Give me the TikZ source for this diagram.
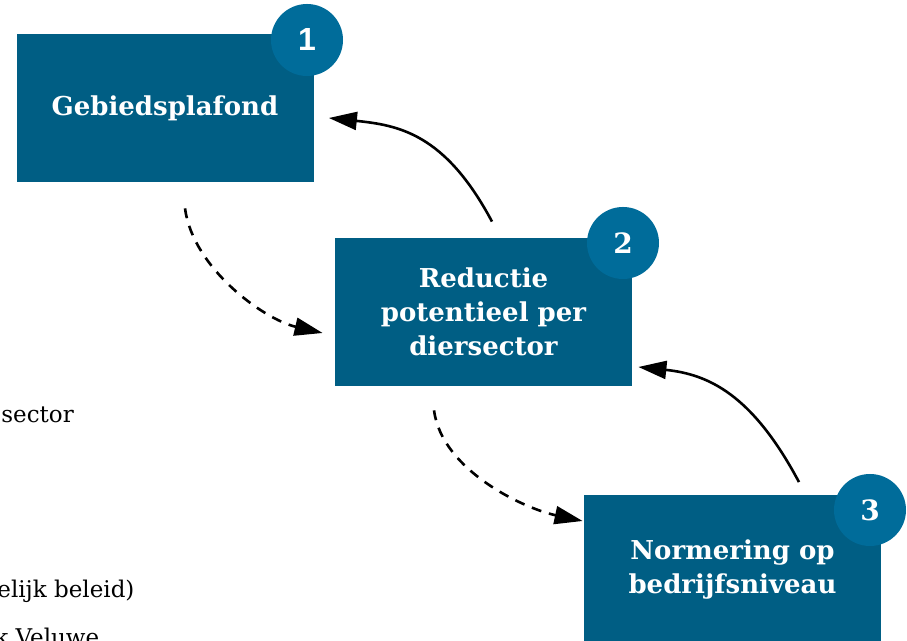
\documentclass[tikz,border=0pt]{standalone}
\usepackage{fontspec}
\setmainfont{DejaVu Serif}
\newfontfamily\numfont{Liberation Sans}
\definecolor{boxblue}{HTML}{005E84}
\definecolor{ringblue}{HTML}{006C9A}
\usetikzlibrary{arrows.meta, calc}

\begin{document}
\begin{tikzpicture}[x=0.5pt, y=0.5pt,
    stepbox/.style={fill=boxblue, text=white, minimum width=148.5pt,
      minimum height=74pt, align=center, inner sep=0pt,
      font=\bfseries\fontsize{13}{17}\selectfont},
    badge/.style={circle, fill=ringblue, text=white, minimum size=36pt,
      inner sep=0pt, font=\bfseries\fontsize{14}{14}\selectfont},
    flow/.style={line width=1.3pt, -{Triangle[length=14pt, width=9pt]}},
    flowdash/.style={flow, dash pattern=on 5pt off 4pt},
    sidetext/.style={anchor=base west, inner sep=0pt,
      font=\fontsize{11.5}{14}\selectfont}]
  \useasboundingbox (0,0) rectangle (907,641);
  % Page text, cut off at the left
  \node[sidetext] (sector) at (1,218) {sector};
  \node[sidetext] (beleid) at (-3,43) {elijk beleid)};
  \node[sidetext] (veluwe) at (-6,-5) {k Veluwe};
  % Steps
  \node[stepbox] (plafond) at (165,532.5) {Gebiedsplafond};
  \node[stepbox] (reductie) at (483.5,329) {Reductie\\potentieel per\\diersector};
  \node[stepbox] (normering) at (732.5,71.5) {Normering op\\bedrijfsniveau};
  % Numbers
  \node[badge, font=\numfont\bfseries\fontsize{16}{16}\selectfont] (nr1) at (307,601) {1};
  \node[badge] (nr2) at (623,398) {2};
  \node[badge] (nr3) at (870,131) {3};
  % Dashed: on to the next step
  \draw[flowdash] ([xshift=10pt, yshift=-12.75pt]plafond.south)
    .. controls +(8,-60) and +(-58.5,13.5) ..
    ([xshift=-6pt, yshift=-10.5pt]reductie.west);
  \draw[flowdash] ([xshift=-24.75pt, yshift=-12pt]reductie.south)
    .. controls +(8,-60) and +(-58.7,12.5) ..
    ([xshift=-0.5pt, yshift=24.25pt]normering.west);
  % Solid: back up
  \draw[flow] ([xshift=4.25pt, yshift=8pt]reductie.north)
    .. controls +(-47,88.3) and +(69.6,-7.3) ..
    ([xshift=7.5pt, yshift=-4.75pt]plafond.east);
  \draw[flow] ([xshift=33.25pt, yshift=6.5pt]normering.north)
    .. controls +(-47,88.3) and +(69.6,-7.3) ..
    ([xshift=3pt, yshift=-27.5pt]reductie.east);
\end{tikzpicture}
\end{document}
